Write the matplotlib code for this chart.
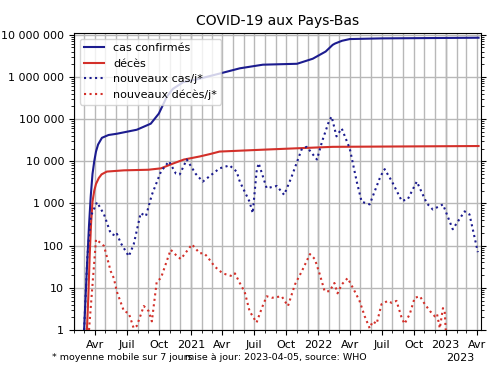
import matplotlib
matplotlib.use("Agg")
import matplotlib.pyplot as plt
import matplotlib.dates as mdates
from matplotlib.ticker import FuncFormatter, LogLocator, NullFormatter
import pandas as pd

# cas confirmés (cumul)
dates_cas = ["2020-03-01", "2020-03-08", "2020-03-15", "2020-03-20", "2020-03-25",
             "2020-03-30", "2020-04-04", "2020-04-10", "2020-04-21", "2020-05-10",
             "2020-06-03", "2020-07-30", "2020-09-08", "2020-10-01", "2020-10-24",
             "2020-11-10", "2020-12-10", "2021-01-26", "2021-03-24", "2021-05-21",
             "2021-07-26", "2021-11-01", "2021-12-16", "2022-01-22", "2022-02-11",
             "2022-02-18", "2022-03-10", "2022-04-01", "2022-07-01", "2023-04-05"]
cas = [1, 20, 300, 1500, 5000,
       10000, 17000, 25000, 36000, 42000,
       45000, 56000, 78000, 135000, 340000,
       520000, 750000, 910000, 1200000, 1600000,
       1950000, 2050000, 2700000, 4000000, 5750000,
       6200000, 7200000, 7900000, 8200000, 8500000]

# décès (cumul)
dates_deces = ["2020-03-09", "2020-03-13", "2020-03-17", "2020-03-21", "2020-03-25",
               "2020-03-30", "2020-04-04", "2020-04-12", "2020-04-20", "2020-05-05",
               "2020-06-23", "2020-09-01", "2020-10-07", "2020-11-10", "2020-12-12",
               "2021-01-26", "2021-02-27", "2021-03-24", "2021-08-06", "2022-02-11",
               "2023-04-05"]
deces = [1, 6, 60, 350, 1100,
         2000, 2900, 4000, 4900, 5700,
         6100, 6300, 6800, 8800, 11000,
         13000, 15000, 17000, 19000, 22000,
         23000]

# nouveaux cas/j (moyenne 7 jours)
dates_nc = ["2020-03-01", "2020-03-10", "2020-03-20", "2020-04-07", "2020-04-27",
            "2020-05-16", "2020-05-31", "2020-06-03", "2020-06-14", "2020-07-07",
            "2020-07-21", "2020-08-10", "2020-08-25", "2020-09-11", "2020-10-07",
            "2020-10-30", "2020-11-19", "2020-11-30", "2020-12-20", "2021-01-15",
            "2021-02-04", "2021-03-24", "2021-04-22", "2021-05-01", "2021-05-12",
            "2021-05-21", "2021-06-18", "2021-06-27", "2021-07-08", "2021-07-14",
            "2021-08-06", "2021-09-04", "2021-09-25", "2021-10-15", "2021-11-15",
            "2021-11-29", "2021-12-28", "2022-01-12", "2022-01-31", "2022-02-08",
            "2022-02-22", "2022-03-09", "2022-04-01", "2022-04-21", "2022-05-05",
            "2022-05-28", "2022-06-28", "2022-07-10", "2022-07-31", "2022-08-28",
            "2022-09-14", "2022-10-10", "2022-11-08", "2022-11-25", "2022-12-24",
            "2023-01-21", "2023-02-24", "2023-03-10", "2023-04-03"]
nouveaux_cas = [1, 50, 500, 1070, 550,
                195, 170, 190, 115, 56,
                107, 590, 500, 1600, 5700,
                10000, 5100, 4900, 11000, 5000,
                3300, 6800, 8000, 6800, 5700,
                3300, 1100, 590, 5700, 9000,
                2300, 2600, 1600, 4000, 20000,
                22000, 11000, 30000, 87000, 115000,
                39000, 60000, 20000, 3300, 1100,
                950, 4400, 6500, 3300, 1150,
                1250, 3300, 1000, 720, 950,
                245, 650, 550, 70]

# nouveaux décès/j (moyenne 7 jours)
dates_nd = ["2020-03-15", "2020-04-04", "2020-04-12", "2020-04-27", "2020-05-16",
            "2020-05-25", "2020-06-03", "2020-06-23", "2020-07-07", "2020-07-21",
            "2020-07-30", "2020-08-19", "2020-09-02", "2020-09-11", "2020-09-25",
            "2020-10-07", "2020-11-04", "2020-11-19", "2020-12-03", "2021-01-04",
            "2021-01-26", "2021-02-07", "2021-02-16", "2021-03-10", "2021-04-02",
            "2021-04-28", "2021-05-07", "2021-05-21", "2021-06-04", "2021-06-18",
            "2021-07-08", "2021-07-23", "2021-08-06", "2021-08-21", "2021-09-18",
            "2021-10-06", "2021-10-26", "2021-11-15", "2021-12-08", "2021-12-22",
            "2022-01-05", "2022-01-19", "2022-02-02", "2022-02-16", "2022-02-25",
            "2022-03-09", "2022-03-26", "2022-04-15", "2022-04-29", "2022-05-14",
            "2022-05-28", "2022-06-06", "2022-06-17", "2022-07-01", "2022-07-19",
            "2022-07-30", "2022-08-13", "2022-08-28", "2022-09-05", "2022-09-20",
            "2022-10-04", "2022-10-19", "2022-11-02", "2022-11-17", "2022-12-01",
            "2022-12-07", "2022-12-15", "2022-12-24", "2022-12-29", "2023-01-03"]
nouveaux_deces = [1, 140, 125, 98, 25,
                  17, 8, 2.8, 2.5, 1.1,
                  1.25, 3.7, 2.8, 1.6, 14,
                  17, 80, 60, 48, 107,
                  66, 66, 56, 32, 22,
                  19, 22, 13, 8, 2.8,
                  1.5, 3.3, 6.3, 5.8, 6.3,
                  3.7, 12, 25, 63, 48,
                  21, 8.3, 8.3, 13, 7.4,
                  12, 17, 8.3, 4.9, 2.1,
                  1.1, 1.6, 1.4, 4.1, 4.9,
                  4.4, 4.9, 1.9, 1.4, 2.4,
                  5.8, 6.3, 4.1, 2.8, 2.1,
                  2.4, 1.1, 3.3, 2.8, 0.5]

mois = {1: "", 4: "Avr", 7: "Juil", 10: "Oct"}

bleu = "#1c1c8f"
rouge = "#d3302a"

fig = plt.figure(figsize=(5, 3.75), dpi=100)
ax = fig.add_axes([0.148, 0.12, 0.814, 0.792])

ax.plot(pd.to_datetime(dates_cas), cas, color=bleu, lw=1.5, label="cas confirmés")
ax.plot(pd.to_datetime(dates_deces), deces, color=rouge, lw=1.5, label="décès")
ax.plot(pd.to_datetime(dates_nc), nouveaux_cas, color=bleu, lw=1.5, ls=":",
        label="nouveaux cas/j*")
ax.plot(pd.to_datetime(dates_nd), nouveaux_deces, color=rouge, lw=1.5, ls=":",
        label="nouveaux décès/j*")

ax.set_yscale("log")
ax.set_ylim(1, 1.1e7)
ax.set_xlim(pd.Timestamp("2020-02-01"), pd.Timestamp("2023-04-12"))

ax.yaxis.set_major_locator(LogLocator(base=10, numticks=10))
ax.yaxis.set_minor_locator(LogLocator(base=10, subs=range(2, 10), numticks=20))
ax.yaxis.set_minor_formatter(NullFormatter())
ax.yaxis.set_major_formatter(FuncFormatter(lambda v, p: f"{int(round(v)):,}".replace(",", " ")))
ax.tick_params(axis="y", which="both", right=True, labelright=False, labelsize=8)

ax.xaxis.set_major_locator(mdates.MonthLocator(bymonth=[1, 4, 7, 10]))
ax.xaxis.set_minor_locator(mdates.MonthLocator())


def fmt_date(v, p):
    d = mdates.num2date(v)
    if d.month == 1:
        return str(d.year)
    return mois[d.month]


ax.xaxis.set_major_formatter(FuncFormatter(fmt_date))
ax.tick_params(axis="x", which="major", labelsize=8)

ax.grid(True, which="major", axis="y", color="0.72", lw=1)
ax.grid(True, which="both", axis="x", color="0.72", lw=1)
for an in ["2021-01-01", "2022-01-01", "2023-01-01"]:
    ax.axvline(pd.Timestamp(an), color="0.6", lw=1, zorder=0.5)
ax.set_axisbelow(True)

ax.set_title("COVID-19 aux Pays-Bas", fontsize=10)
ax.legend(loc="upper left", fontsize=8, handlelength=1.8)

fig.text(0.104, 0.04, "* moyenne mobile sur 7 jours", fontsize=6.8)
fig.text(0.37, 0.04, "mise à jour: 2023-04-05, source: WHO", fontsize=6.8)
fig.text(0.92, 0.037, "2023", fontsize=8, ha="center")

fig.savefig("out.png")
